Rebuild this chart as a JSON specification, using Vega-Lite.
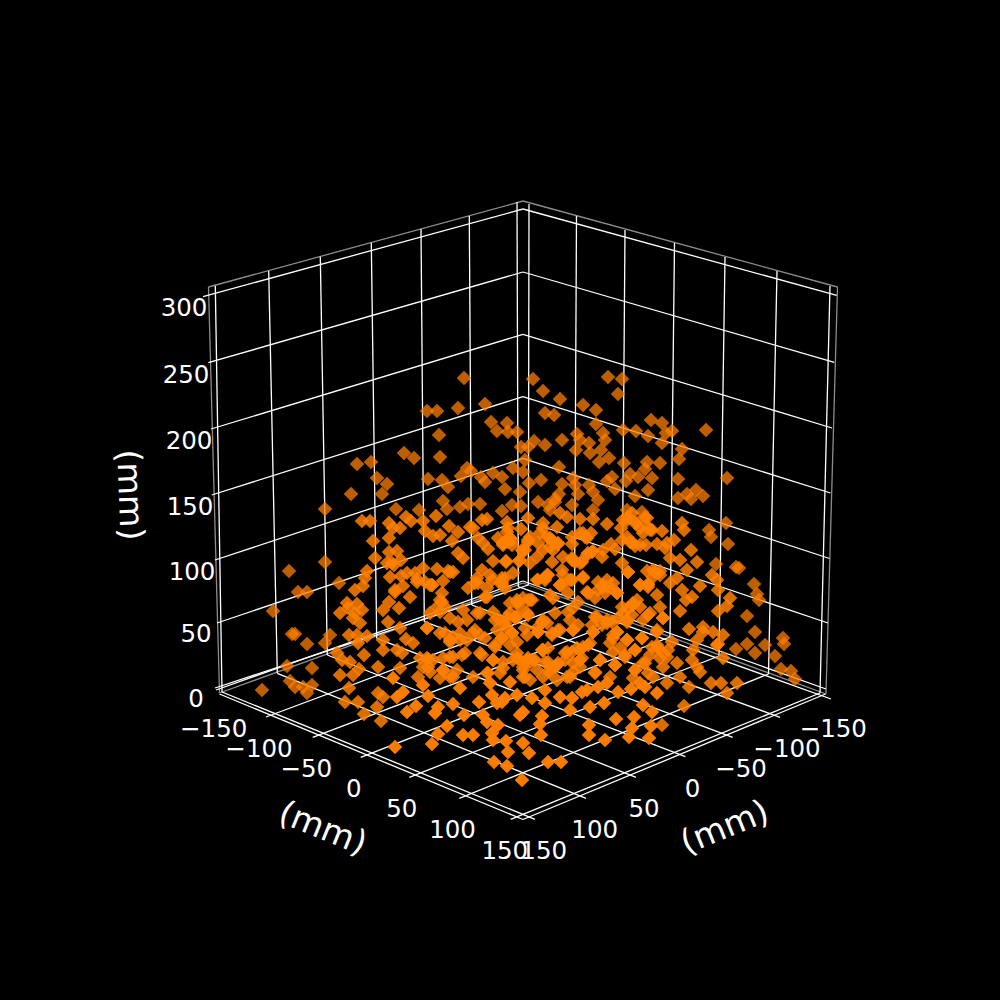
{
  "$schema": "https://vega.github.io/schema/vega-lite/v6.json",
  "description": "3D scatter of positions in mm, drawn from projected coordinates read off the picture.",
  "width": 1000,
  "height": 1000,
  "padding": 0,
  "autosize": {"type": "fit", "contains": "padding"},
  "background": "#000000",
  "config": {"view": {"stroke": null}},
  "datasets": {
    "grid": [
      {"u":215.3,"v":285.7,"u2":222,"v2":692},{"u":268.7,"v":271,"u2":277.3,"v2":673.3},{"u":320.3,"v":256.7,"u2":327.3,"v2":655},{"u":371.3,"v":242.7,"u2":376.7,"v2":638.3},{"u":421,"v":229,"u2":424.3,"v2":621.7},{"u":469.3,"v":216,"u2":471.7,"v2":605},{"u":517,"v":202,"u2":518.3,"v2":586.7},
      {"u":529,"v":204,"u2":528.3,"v2":585},{"u":576.5,"v":216,"u2":574.5,"v2":602},{"u":625,"v":230,"u2":622,"v2":620},{"u":674.5,"v":243,"u2":670,"v2":637},{"u":725,"v":257,"u2":719,"v2":656},{"u":777,"v":271,"u2":768.5,"v2":674},{"u":830,"v":286,"u2":820,"v2":693},
      {"u":203,"v":296.7,"u2":523,"v2":209},{"u":208.3,"v":362.7,"u2":523,"v2":272},{"u":211,"v":429,"u2":523,"v2":334.3},{"u":211.7,"v":495,"u2":523,"v2":396.7},{"u":215,"v":560,"u2":523,"v2":458.3},{"u":217,"v":623,"u2":523,"v2":520},{"u":216,"v":690,"u2":523,"v2":581},
      {"u":523,"v":209,"u2":836.7,"v2":295.3},{"u":523,"v":272,"u2":834.3,"v2":362.3},{"u":523,"v":334.3,"u2":832,"v2":428},{"u":523,"v":396.7,"u2":830.5,"v2":493},{"u":523,"v":458.3,"u2":829.5,"v2":558.5},{"u":523,"v":520,"u2":828,"v2":623},{"u":523,"v":581,"u2":826,"v2":689},
      {"u":215,"v":688,"u2":528.3,"v2":585},{"u":266,"v":717,"u2":574.5,"v2":602},{"u":312.7,"v":737.3,"u2":622,"v2":620},{"u":360.7,"v":757.3,"u2":670,"v2":637},{"u":409.3,"v":777.3,"u2":719,"v2":656},{"u":459.3,"v":798.3,"u2":768.5,"v2":674},{"u":510.7,"v":819.3,"u2":820,"v2":693},
      {"u":831,"v":699,"u2":518.3,"v2":586.7},{"u":780,"v":717.3,"u2":471.7,"v2":605},{"u":732.7,"v":737.3,"u2":424.3,"v2":621.7},{"u":685.3,"v":756.7,"u2":376.7,"v2":638.3},{"u":636,"v":777.3,"u2":327.3,"v2":655},{"u":586,"v":798.3,"u2":277.3,"v2":673.3},{"u":535,"v":819.3,"u2":222,"v2":692},
      {"u":219.5,"v":694,"u2":523,"v2":819.5},{"u":523,"v":819.5,"u2":825.5,"v2":694}
    ],
    "edges": [
      {"u":208.5,"v":287,"u2":523,"v2":201},{"u":523,"v":201,"u2":837.5,"v2":287},{"u":208.5,"v":287,"u2":219.5,"v2":693},{"u":837.5,"v":287,"u2":826,"v2":694},{"u":219.5,"v":693,"u2":523,"v2":583},{"u":523,"v":583,"u2":826,"v2":694}
    ],
    "ticks": [
      {"u":184,"v":306,"t":"300"},{"u":186,"v":373,"t":"250"},{"u":189,"v":439,"t":"200"},{"u":190,"v":505,"t":"150"},{"u":192,"v":570,"t":"100"},{"u":196,"v":632,"t":"50"},{"u":196,"v":697,"t":"0"},
      {"u":213.7,"v":727,"t":"−150"},{"u":259,"v":747,"t":"−100"},{"u":306.3,"v":767,"t":"−50"},{"u":353.7,"v":787,"t":"0"},{"u":401.8,"v":807,"t":"50"},{"u":452.5,"v":828,"t":"100"},{"u":504.8,"v":849,"t":"150"},
      {"u":833.3,"v":727.7,"t":"−150"},{"u":787,"v":747,"t":"−100"},{"u":741,"v":767,"t":"−50"},{"u":692.5,"v":787,"t":"0"},{"u":644,"v":807,"t":"50"},{"u":594.7,"v":828,"t":"100"},{"u":543.7,"v":849,"t":"150"}
    ],
    "points": [
      {"u":464,"v":378,"s":1},{"u":427,"v":411,"s":1},{"u":437,"v":411,"s":1},{"u":458,"v":408,"s":1},{"u":485,"v":404,"s":1},{"u":491,"v":422,"s":1},{"u":507,"v":423,"s":1},{"u":497,"v":431,"s":1},{"u":508,"v":432,"s":1},{"u":517,"v":432,"s":1},{"u":439,"v":435,"s":1},{"u":404,"v":453,"s":1},{"u":414,"v":458,"s":1},{"u":440,"v":457,"s":1},{"u":357,"v":464,"s":1},{"u":371,"v":462,"s":1},{"u":377,"v":478,"s":1},{"u":387,"v":484,"s":1},{"u":351,"v":494,"s":1},{"u":382,"v":494,"s":1},{"u":428,"v":479,"s":1},{"u":442,"v":480,"s":1},{"u":448,"v":487,"s":1},{"u":461,"v":476,"s":1},{"u":467,"v":468,"s":1},{"u":471,"v":471,"s":1},{"u":481,"v":477,"s":1},{"u":485,"v":482,"s":1},{"u":493,"v":473,"s":1},{"u":502,"v":477,"s":1},{"u":505,"v":489,"s":1},{"u":520,"v":492,"s":1},{"u":521,"v":447,"s":1},{"u":525,"v":460,"s":1},{"u":513,"v":468,"s":1},{"u":523,"v":472,"s":1},{"u":325,"v":509,"s":1},{"u":396,"v":509,"s":1},{"u":419,"v":510,"s":1},{"u":443,"v":501,"s":1},{"u":447,"v":509,"s":1},{"u":460,"v":507,"s":1},{"u":468,"v":504,"s":1},{"u":480,"v":504,"s":1},{"u":502,"v":511,"s":1},{"u":512,"v":505,"s":1},{"u":521,"v":506,"s":1},
      {"u":533,"v":379,"s":1},{"u":543,"v":391,"s":1},{"u":560,"v":399,"s":1},{"u":608,"v":377,"s":1},{"u":622,"v":379,"s":1},{"u":618,"v":394,"s":1},{"u":583,"v":405,"s":1},{"u":596,"v":410,"s":1},{"u":545,"v":413,"s":1},{"u":554,"v":415,"s":1},{"u":596,"v":424,"s":1},{"u":651,"v":420,"s":1},{"u":662,"v":423,"s":1},{"u":623,"v":430,"s":1},{"u":636,"v":431,"s":1},{"u":706,"v":430,"s":1},{"u":672,"v":431,"s":1},{"u":666,"v":433,"s":1},{"u":648,"v":436,"s":1},{"u":577,"v":434,"s":1},{"u":603,"v":433,"s":1},{"u":605,"v":440,"s":1},{"u":562,"v":440,"s":1},{"u":534,"v":441,"s":1},{"u":545,"v":445,"s":1},{"u":528,"v":447,"s":1},{"u":580,"v":440,"s":1},{"u":589,"v":443,"s":1},{"u":576,"v":450,"s":1},{"u":590,"v":453,"s":1},{"u":601,"v":450,"s":1},{"u":662,"v":443,"s":1},{"u":682,"v":449,"s":1},{"u":679,"v":459,"s":1},{"u":609,"v":458,"s":1},{"u":599,"v":462,"s":1},{"u":624,"v":463,"s":1},{"u":647,"v":462,"s":1},{"u":660,"v":463,"s":1},{"u":559,"v":467,"s":1},{"u":645,"v":469,"s":1},{"u":638,"v":477,"s":1},{"u":630,"v":474,"s":1},{"u":652,"v":478,"s":1},{"u":678,"v":479,"s":1},{"u":727,"v":478,"s":1},{"u":541,"v":480,"s":1},{"u":529,"v":483,"s":1},{"u":612,"v":477,"s":1},{"u":607,"v":481,"s":1},{"u":626,"v":481,"s":1},{"u":573,"v":478,"s":1},{"u":562,"v":484,"s":1},{"u":589,"v":485,"s":1},{"u":575,"v":485,"s":1},{"u":615,"v":489,"s":1},{"u":648,"v":490,"s":1},{"u":696,"v":490,"s":1},{"u":687,"v":494,"s":1},{"u":678,"v":498,"s":1},{"u":691,"v":499,"s":1},{"u":703,"v":496,"s":1},{"u":635,"v":496,"s":1},{"u":559,"v":494,"s":1},{"u":578,"v":494,"s":1},{"u":593,"v":492,"s":1},{"u":598,"v":500,"s":1},{"u":538,"v":502,"s":1},{"u":555,"v":499,"s":1},{"u":550,"v":510,"s":1},{"u":572,"v":505,"s":1},{"u":593,"v":510,"s":1},{"u":627,"v":510,"s":1},{"u":642,"v":512,"s":1},
      {"u":362,"v":521,"s":2},{"u":370,"v":521,"s":2},{"u":389,"v":523,"s":2},{"u":406,"v":517,"s":2},{"u":411,"v":521,"s":2},{"u":400,"v":528,"s":2},{"u":393,"v":528,"s":2},{"u":423,"v":521,"s":2},{"u":436,"v":516,"s":2},{"u":449,"v":526,"s":2},{"u":425,"v":531,"s":2},{"u":433,"v":536,"s":2},{"u":440,"v":535,"s":2},{"u":452,"v":541,"s":2},{"u":458,"v":532,"s":2},{"u":470,"v":527,"s":2},{"u":473,"v":528,"s":2},{"u":487,"v":519,"s":2},{"u":482,"v":520,"s":2},{"u":507,"v":522,"s":2},{"u":521,"v":529,"s":2},{"u":389,"v":538,"s":2},{"u":373,"v":541,"s":2},{"u":397,"v":551,"s":2},{"u":389,"v":552,"s":2},{"u":458,"v":553,"s":2},{"u":463,"v":558,"s":2},{"u":483,"v":543,"s":2},{"u":478,"v":538,"s":2},{"u":488,"v":549,"s":2},{"u":503,"v":543,"s":2},{"u":510,"v":538,"s":2},{"u":498,"v":538,"s":2},{"u":508,"v":528,"s":2},{"u":522,"v":550,"s":2},{"u":375,"v":558,"s":2},{"u":325,"v":562,"s":1},{"u":289,"v":571,"s":1},{"u":401,"v":560,"s":2},{"u":392,"v":563,"s":2},{"u":387,"v":563,"s":2},{"u":394,"v":565,"s":2},{"u":493,"v":561,"s":2},{"u":506,"v":561,"s":2},{"u":519,"v":561,"s":2},{"u":437,"v":569,"s":2},{"u":423,"v":568,"s":2},{"u":415,"v":573,"s":2},{"u":407,"v":573,"s":2},{"u":367,"v":571,"s":2},{"u":365,"v":578,"s":2},{"u":390,"v":577,"s":2},{"u":401,"v":576,"s":2},{"u":448,"v":571,"s":2},{"u":453,"v":572,"s":2},{"u":417,"v":579,"s":2},{"u":430,"v":585,"s":2},{"u":443,"v":581,"s":2},{"u":482,"v":570,"s":2},{"u":490,"v":575,"s":2},{"u":477,"v":578,"s":2},{"u":502,"v":578,"s":2},{"u":513,"v":573,"s":2},{"u":339,"v":583,"s":1},{"u":363,"v":586,"s":2},{"u":298,"v":592,"s":1},{"u":307,"v":592,"s":1},{"u":395,"v":590,"s":2},{"u":403,"v":586,"s":2},{"u":355,"v":590,"s":2},
      {"u":647,"v":518,"s":2},{"u":627,"v":520,"s":2},{"u":635,"v":523,"s":2},{"u":607,"v":524,"s":2},{"u":682,"v":523,"s":2},{"u":726,"v":523,"s":1},{"u":528,"v":518,"s":2},{"u":543,"v":523,"s":2},{"u":557,"v":527,"s":2},{"u":560,"v":513,"s":2},{"u":567,"v":517,"s":2},{"u":580,"v":519,"s":2},{"u":593,"v":519,"s":2},{"u":621,"v":528,"s":2},{"u":640,"v":528,"s":2},{"u":650,"v":530,"s":2},{"u":662,"v":531,"s":2},{"u":684,"v":530,"s":2},{"u":709,"v":530,"s":1},{"u":711,"v":537,"s":1},{"u":540,"v":533,"s":2},{"u":507,"v":532,"s":2},{"u":530,"v":537,"s":2},{"u":580,"v":533,"s":2},{"u":591,"v":533,"s":2},{"u":585,"v":537,"s":2},{"u":572,"v":537,"s":2},{"u":550,"v":538,"s":2},{"u":643,"v":533,"s":2},{"u":508,"v":542,"s":2},{"u":528,"v":542,"s":2},{"u":538,"v":543,"s":2},{"u":558,"v":544,"s":2},{"u":572,"v":544,"s":2},{"u":674,"v":540,"s":2},{"u":667,"v":543,"s":2},{"u":657,"v":544,"s":2},{"u":646,"v":545,"s":2},{"u":635,"v":546,"s":2},{"u":622,"v":540,"s":2},{"u":630,"v":542,"s":2},{"u":611,"v":544,"s":2},{"u":728,"v":544,"s":1},{"u":503,"v":543,"s":2},{"u":665,"v":548,"s":2},{"u":691,"v":550,"s":2},{"u":615,"v":549,"s":2},{"u":593,"v":551,"s":2},{"u":588,"v":553,"s":2},{"u":602,"v":557,"s":2},{"u":523,"v":551,"s":2},{"u":553,"v":550,"s":2},{"u":563,"v":557,"s":2},{"u":537,"v":557,"s":2},{"u":572,"v":560,"s":2},{"u":580,"v":563,"s":2},{"u":506,"v":562,"s":2},{"u":530,"v":563,"s":2},{"u":552,"v":562,"s":2},{"u":670,"v":558,"s":2},{"u":680,"v":560,"s":2},{"u":697,"v":562,"s":2},{"u":716,"v":564,"s":1},{"u":736,"v":567,"s":1},{"u":739,"v":568,"s":1},{"u":622,"v":563,"s":2},{"u":628,"v":572,"s":2},{"u":687,"v":570,"s":2},{"u":653,"v":570,"s":2},{"u":660,"v":571,"s":2},{"u":647,"v":571,"s":2},{"u":712,"v":575,"s":2},{"u":717,"v":580,"s":2},{"u":754,"v":584,"s":1},{"u":700,"v":586,"s":2},{"u":677,"v":578,"s":2},{"u":670,"v":583,"s":2},{"u":653,"v":577,"s":2},{"u":640,"v":585,"s":2},{"u":648,"v":584,"s":2},{"u":562,"v":570,"s":2},{"u":583,"v":578,"s":2},{"u":548,"v":575,"s":2},{"u":537,"v":580,"s":2},{"u":570,"v":580,"s":2},{"u":560,"v":585,"s":2},{"u":505,"v":578,"s":2},{"u":607,"v":580,"s":2},{"u":613,"v":583,"s":2},{"u":598,"v":582,"s":2},{"u":603,"v":587,"s":2},
      {"u":273,"v":611,"s":1},{"u":292,"v":634,"s":1},{"u":295,"v":634,"s":1},{"u":307,"v":644,"s":1},{"u":325,"v":643,"s":1},{"u":330,"v":635,"s":1},{"u":287,"v":666,"s":1},{"u":312,"v":668,"s":1},{"u":337,"v":653,"s":2},{"u":349,"v":635,"s":2},{"u":357,"v":635,"s":2},{"u":358,"v":643,"s":2},{"u":367,"v":636,"s":2},{"u":364,"v":655,"s":2},{"u":347,"v":603,"s":2},{"u":357,"v":604,"s":2},{"u":348,"v":608,"s":2},{"u":340,"v":613,"s":2},{"u":355,"v":613,"s":2},{"u":362,"v":610,"s":2},{"u":353,"v":618,"s":2},{"u":360,"v":623,"s":2},{"u":342,"v":660,"s":2},{"u":350,"v":662,"s":2},{"u":359,"v":669,"s":2},{"u":340,"v":675,"s":2},{"u":353,"v":675,"s":2},{"u":378,"v":667,"s":2},{"u":383,"v":650,"s":2},{"u":397,"v":650,"s":2},{"u":402,"v":653,"s":2},{"u":383,"v":640,"s":2},{"u":388,"v":622,"s":2},{"u":400,"v":628,"s":2},{"u":406,"v":639,"s":2},{"u":413,"v":643,"s":2},{"u":383,"v":610,"s":2},{"u":389,"v":602,"s":2},{"u":399,"v":608,"s":2},{"u":395,"v":592,"s":2},{"u":410,"v":597,"s":2},{"u":417,"v":582,"s":2},{"u":432,"v":585,"s":2},{"u":427,"v":628,"s":2},{"u":442,"v":602,"s":2},{"u":430,"v":613,"s":2},{"u":450,"v":618,"s":2},{"u":440,"v":633,"s":2},{"u":450,"v":640,"s":2},{"u":460,"v":633,"s":2},{"u":473,"v":633,"s":2},{"u":485,"v":638,"s":2},{"u":467,"v":620,"s":2},{"u":480,"v":613,"s":2},{"u":493,"v":612,"s":2},{"u":487,"v":597,"s":2},{"u":478,"v":583,"s":2},{"u":502,"v":583,"s":2},{"u":517,"v":600,"s":2},{"u":528,"v":600,"s":2},{"u":507,"v":617,"s":2},{"u":517,"v":617,"s":2},{"u":527,"v":613,"s":2},{"u":497,"v":630,"s":2},{"u":512,"v":633,"s":2},{"u":527,"v":635,"s":2},{"u":537,"v":628,"s":2},{"u":420,"v":658,"s":2},{"u":428,"v":659,"s":2},{"u":450,"v":657,"s":2},{"u":443,"v":658,"s":2},{"u":465,"v":653,"s":2},{"u":480,"v":653,"s":2},{"u":495,"v":647,"s":2},{"u":517,"v":653,"s":2},{"u":527,"v":660,"s":2},{"u":533,"v":660,"s":2},{"u":418,"v":677,"s":2},{"u":428,"v":667,"s":2},{"u":440,"v":678,"s":2},{"u":443,"v":670,"s":2},{"u":457,"v":670,"s":2},{"u":453,"v":677,"s":2},{"u":473,"v":677,"s":2},{"u":487,"v":673,"s":2},{"u":493,"v":660,"s":2},{"u":503,"v":668,"s":2},{"u":525,"v":677,"s":2},{"u":530,"v":680,"s":2},
      {"u":747,"v":616,"s":1},{"u":757,"v":594,"s":1},{"u":759,"v":600,"s":1},{"u":730,"v":598,"s":2},{"u":727,"v":606,"s":2},{"u":718,"v":611,"s":2},{"u":718,"v":590,"s":2},{"u":682,"v":590,"s":2},{"u":692,"v":597,"s":2},{"u":686,"v":600,"s":2},{"u":680,"v":611,"s":2},{"u":657,"v":595,"s":2},{"u":660,"v":607,"s":2},{"u":663,"v":618,"s":2},{"u":650,"v":613,"s":2},{"u":640,"v":607,"s":2},{"u":648,"v":587,"s":2},{"u":689,"v":629,"s":2},{"u":703,"v":627,"s":2},{"u":703,"v":632,"s":2},{"u":713,"v":632,"s":2},{"u":723,"v":635,"s":2},{"u":755,"v":632,"s":1},{"u":783,"v":638,"s":1},{"u":784,"v":644,"s":1},{"u":717,"v":645,"s":2},{"u":697,"v":640,"s":2},{"u":672,"v":642,"s":2},{"u":657,"v":632,"s":2},{"u":642,"v":638,"s":2},{"u":627,"v":640,"s":2},{"u":613,"v":638,"s":2},{"u":617,"v":593,"s":2},{"u":607,"v":587,"s":2},{"u":588,"v":593,"s":2},{"u":578,"v":602,"s":2},{"u":568,"v":612,"s":2},{"u":595,"v":617,"s":2},{"u":607,"v":623,"s":2},{"u":622,"v":607,"s":2},{"u":633,"v":605,"s":2},{"u":627,"v":620,"s":2},{"u":643,"v":620,"s":2},{"u":617,"v":632,"s":2},{"u":593,"v":632,"s":2},{"u":573,"v":630,"s":2},{"u":558,"v":630,"s":2},{"u":552,"v":633,"s":2},{"u":538,"v":632,"s":2},{"u":528,"v":615,"s":2},{"u":542,"v":622,"s":2},{"u":553,"v":598,"s":2},{"u":518,"v":602,"s":2},{"u":532,"v":600,"s":2},{"u":547,"v":575,"s":2},{"u":562,"v":585,"s":2},{"u":510,"v":613,"s":2},{"u":515,"v":617,"s":2},{"u":505,"v":623,"s":2},{"u":512,"v":633,"s":2},{"u":502,"v":638,"s":2},{"u":525,"v":628,"s":2},{"u":510,"v":645,"s":2},{"u":542,"v":650,"s":2},{"u":567,"v":652,"s":2},{"u":580,"v":650,"s":2},{"u":588,"v":645,"s":2},{"u":613,"v":652,"s":2},{"u":635,"v":650,"s":2},{"u":650,"v":655,"s":2},{"u":660,"v":650,"s":2},{"u":667,"v":657,"s":2},{"u":657,"v":645,"s":2},{"u":693,"v":650,"s":2},{"u":718,"v":644,"s":2},{"u":723,"v":658,"s":2},{"u":736,"v":649,"s":1},{"u":747,"v":644,"s":1},{"u":755,"v":653,"s":1},{"u":765,"v":645,"s":1},{"u":775,"v":656,"s":1},{"u":781,"v":669,"s":1},{"u":791,"v":671,"s":1},{"u":795,"v":679,"s":1},
      {"u":517,"v":658,"s":2},{"u":503,"v":662,"s":2},{"u":545,"v":662,"s":2},{"u":530,"v":662,"s":2},{"u":523,"v":667,"s":2},{"u":557,"v":665,"s":2},{"u":580,"v":660,"s":2},{"u":600,"v":660,"s":2},{"u":625,"v":657,"s":2},{"u":615,"v":665,"s":2},{"u":580,"v":667,"s":2},{"u":643,"v":663,"s":2},{"u":635,"v":670,"s":2},{"u":663,"v":667,"s":2},{"u":677,"v":663,"s":2},{"u":692,"v":660,"s":2},{"u":697,"v":667,"s":2},{"u":700,"v":672,"s":2},{"u":680,"v":677,"s":2},{"u":653,"v":677,"s":2},{"u":633,"v":678,"s":2},{"u":610,"v":677,"s":2},{"u":595,"v":673,"s":2},{"u":570,"v":677,"s":2},{"u":567,"v":677,"s":2},{"u":557,"v":680,"s":2},{"u":550,"v":673,"s":2},{"u":543,"v":677,"s":2},{"u":523,"v":677,"s":2},
      {"u":517,"v":602,"s":2},{"u":523,"v":598,"s":2},{"u":510,"v":603,"s":2},{"u":520,"v":607,"s":2},{"u":530,"v":600,"s":2},{"u":515,"v":618,"s":2},{"u":538,"v":580,"s":2},{"u":545,"v":578,"s":2},{"u":500,"v":583,"s":2},{"u":505,"v":588,"s":2},{"u":492,"v":580,"s":2},{"u":487,"v":588,"s":2},{"u":475,"v":583,"s":2},{"u":468,"v":588,"s":2},{"u":485,"v":597,"s":2},{"u":440,"v":600,"s":2},{"u":445,"v":607,"s":2},{"u":437,"v":607,"s":2},{"u":440,"v":612,"s":2},{"u":463,"v":610,"s":2},{"u":477,"v":613,"s":2},{"u":458,"v":622,"s":2},{"u":475,"v":630,"s":2},{"u":467,"v":640,"s":2},{"u":453,"v":637,"s":2},{"u":445,"v":633,"s":2},{"u":460,"v":640,"s":2},{"u":450,"v":642,"s":2},{"u":480,"v":635,"s":2},{"u":495,"v":620,"s":2},{"u":500,"v":620,"s":2},{"u":507,"v":628,"s":2},{"u":502,"v":638,"s":2},{"u":495,"v":645,"s":2},{"u":517,"v":642,"s":2},{"u":543,"v":620,"s":2},{"u":538,"v":632,"s":2},{"u":482,"v":655,"s":2},{"u":493,"v":660,"s":2},{"u":453,"v":657,"s":2},{"u":427,"v":658,"s":2},{"u":433,"v":660,"s":2},{"u":423,"v":667,"s":2},{"u":430,"v":672,"s":2},{"u":443,"v":670,"s":2},{"u":450,"v":677,"s":2},{"u":462,"v":655,"s":2},{"u":488,"v":673,"s":2},{"u":500,"v":673,"s":2},{"u":513,"v":660,"s":2},{"u":520,"v":660,"s":2},{"u":528,"v":658,"s":2},{"u":535,"v":660,"s":2},{"u":523,"v":670,"s":2},{"u":537,"v":670,"s":2},{"u":543,"v":650,"s":2},{"u":548,"v":648,"s":2},{"u":442,"v":593,"s":2},{"u":432,"v":585,"s":2},{"u":450,"v":572,"s":2},{"u":427,"v":628,"s":2},{"u":425,"v":582,"s":2},
      {"u":603,"v":585,"s":2},{"u":610,"v":587,"s":2},{"u":598,"v":590,"s":2},{"u":605,"v":593,"s":2},{"u":617,"v":593,"s":2},{"u":587,"v":592,"s":2},{"u":595,"v":598,"s":2},{"u":583,"v":577,"s":2},{"u":628,"v":572,"s":2},{"u":655,"v":572,"s":2},{"u":660,"v":575,"s":2},{"u":648,"v":585,"s":2},{"u":640,"v":585,"s":2},{"u":550,"v":595,"s":2},{"u":545,"v":580,"s":2},{"u":563,"v":575,"s":2},{"u":572,"v":580,"s":2},{"u":560,"v":585,"s":2},{"u":568,"v":593,"s":2},{"u":633,"v":603,"s":2},{"u":628,"v":608,"s":2},{"u":623,"v":613,"s":2},{"u":637,"v":600,"s":2},{"u":618,"v":618,"s":2},{"u":612,"v":622,"s":2},{"u":607,"v":620,"s":2},{"u":597,"v":617,"s":2},{"u":592,"v":625,"s":2},{"u":602,"v":625,"s":2},{"u":627,"v":622,"s":2},{"u":632,"v":615,"s":2},{"u":648,"v":615,"s":2},{"u":663,"v":618,"s":2},{"u":657,"v":630,"s":2},{"u":642,"v":638,"s":2},{"u":627,"v":640,"s":2},{"u":613,"v":635,"s":2},{"u":617,"v":632,"s":2},{"u":610,"v":643,"s":2},{"u":620,"v":648,"s":2},{"u":593,"v":632,"s":2},{"u":573,"v":630,"s":2},{"u":578,"v":625,"s":2},{"u":570,"v":620,"s":2},{"u":560,"v":630,"s":2},{"u":552,"v":635,"s":2},{"u":547,"v":623,"s":2},{"u":555,"v":613,"s":2},{"u":573,"v":608,"s":2},{"u":543,"v":622,"s":2},{"u":590,"v":643,"s":2},{"u":583,"v":647,"s":2},{"u":577,"v":648,"s":2},{"u":572,"v":652,"s":2},{"u":565,"v":653,"s":2},{"u":558,"v":663,"s":2},{"u":548,"v":662,"s":2},{"u":555,"v":667,"s":2},{"u":565,"v":660,"s":2},{"u":573,"v":663,"s":2},{"u":582,"v":658,"s":2},{"u":550,"v":670,"s":2},{"u":573,"v":672,"s":2},{"u":595,"v":672,"s":2},{"u":600,"v":660,"s":2},{"u":615,"v":665,"s":2},{"u":625,"v":655,"s":2},{"u":635,"v":650,"s":2},{"u":645,"v":663,"s":2},{"u":652,"v":647,"s":2},{"u":658,"v":648,"s":2},{"u":668,"v":650,"s":2},{"u":660,"v":658,"s":2},{"u":635,"v":670,"s":2},{"u":648,"v":673,"s":2},{"u":543,"v":650,"s":2},
      {"u":555,"v":502,"s":1},{"u":548,"v":505,"s":1},{"u":543,"v":528,"s":2},{"u":547,"v":537,"s":2},{"u":552,"v":540,"s":2},{"u":558,"v":543,"s":2},{"u":550,"v":547,"s":2},{"u":543,"v":550,"s":2},{"u":528,"v":540,"s":2},{"u":507,"v":540,"s":2},{"u":512,"v":540,"s":2},{"u":503,"v":545,"s":2},{"u":512,"v":545,"s":2},{"u":525,"v":550,"s":2},{"u":520,"v":560,"s":2},{"u":632,"v":513,"s":2},{"u":623,"v":520,"s":2},{"u":628,"v":517,"s":2},{"u":637,"v":523,"s":2},{"u":645,"v":517,"s":2},{"u":648,"v":527,"s":2},{"u":652,"v":530,"s":2},{"u":627,"v":537,"s":2},{"u":633,"v":543,"s":2},{"u":640,"v":545,"s":2},{"u":603,"v":550,"s":2},{"u":592,"v":552,"s":2},{"u":587,"v":555,"s":2},{"u":582,"v":562,"s":2},{"u":575,"v":562,"s":2},{"u":572,"v":558,"s":2},{"u":583,"v":533,"s":2},{"u":587,"v":538,"s":2},
      {"u":262,"v":690,"s":1},{"u":290,"v":681,"s":1},{"u":295,"v":687,"s":1},{"u":303,"v":687,"s":1},{"u":312,"v":685,"s":1},{"u":307,"v":693,"s":1},{"u":349,"v":688,"s":2},{"u":345,"v":702,"s":2},{"u":358,"v":702,"s":2},{"u":364,"v":714,"s":2},{"u":377,"v":707,"s":2},{"u":381,"v":721,"s":2},{"u":378,"v":693,"s":2},{"u":383,"v":697,"s":2},{"u":397,"v":697,"s":3},{"u":403,"v":692,"s":3},{"u":407,"v":712,"s":3},{"u":416,"v":706,"s":3},{"u":395,"v":747,"s":3},{"u":393,"v":678,"s":3},{"u":400,"v":668,"s":2},{"u":423,"v":685,"s":3},{"u":460,"v":688,"s":3},{"u":510,"v":682,"s":3},{"u":490,"v":683,"s":3},{"u":517,"v":695,"s":3},{"u":428,"v":696,"s":3},{"u":492,"v":695,"s":3},{"u":505,"v":698,"s":3},{"u":532,"v":698,"s":3},{"u":438,"v":707,"s":3},{"u":435,"v":713,"s":3},{"u":453,"v":704,"s":3},{"u":479,"v":702,"s":3},{"u":464,"v":715,"s":3},{"u":483,"v":715,"s":3},{"u":497,"v":703,"s":3},{"u":523,"v":712,"s":3},{"u":487,"v":722,"s":3},{"u":447,"v":726,"s":3},{"u":438,"v":734,"s":3},{"u":432,"v":744,"s":3},{"u":463,"v":735,"s":3},{"u":473,"v":735,"s":3},{"u":498,"v":725,"s":3},{"u":492,"v":733,"s":3},{"u":493,"v":740,"s":3},{"u":506,"v":741,"s":3},{"u":523,"v":743,"s":3},{"u":508,"v":752,"s":3},{"u":529,"v":753,"s":3},{"u":494,"v":762,"s":3},{"u":507,"v":766,"s":3},{"u":522,"v":780,"s":3},
      {"u":548,"v":762,"s":3},{"u":561,"v":762,"s":3},{"u":541,"v":735,"s":3},{"u":540,"v":724,"s":3},{"u":542,"v":716,"s":3},{"u":520,"v":715,"s":3},{"u":589,"v":725,"s":3},{"u":589,"v":735,"s":3},{"u":605,"v":740,"s":3},{"u":616,"v":719,"s":3},{"u":634,"v":717,"s":3},{"u":632,"v":728,"s":3},{"u":629,"v":737,"s":3},{"u":651,"v":726,"s":3},{"u":662,"v":725,"s":2},{"u":649,"v":738,"s":3},{"u":684,"v":706,"s":2},{"u":643,"v":705,"s":3},{"u":652,"v":712,"s":3},{"u":590,"v":707,"s":3},{"u":604,"v":703,"s":3},{"u":570,"v":710,"s":3},{"u":545,"v":703,"s":3},{"u":502,"v":702,"s":3},{"u":560,"v":697,"s":3},{"u":572,"v":698,"s":3},{"u":582,"v":692,"s":3},{"u":545,"v":690,"s":3},{"u":598,"v":687,"s":3},{"u":607,"v":683,"s":3},{"u":618,"v":692,"s":3},{"u":631,"v":689,"s":3},{"u":640,"v":683,"s":3},{"u":645,"v":687,"s":3},{"u":657,"v":693,"s":3},{"u":667,"v":683,"s":2},{"u":689,"v":687,"s":2},{"u":711,"v":683,"s":2},{"u":721,"v":683,"s":2},{"u":727,"v":693,"s":2},{"u":737,"v":683,"s":2},{"u":587,"v":690,"s":3}
    ]
  },
  "layer": [
    {
      "data": {"name": "edges"},
      "mark": {"type": "rule", "stroke": "#8c8c8c", "strokeWidth": 1.3},
      "encoding": {
        "x": {"field": "u", "type": "quantitative", "scale": {"domain": [0, 1000], "nice": false, "zero": false}, "axis": null},
        "y": {"field": "v", "type": "quantitative", "scale": {"domain": [1000, 0], "nice": false, "zero": false}, "axis": null},
        "x2": {"field": "u2"},
        "y2": {"field": "v2"}
      }
    },
    {
      "data": {"name": "grid"},
      "mark": {"type": "rule", "stroke": "#ffffff", "strokeWidth": 1.3},
      "encoding": {
        "x": {"field": "u", "type": "quantitative", "axis": null},
        "y": {"field": "v", "type": "quantitative", "axis": null},
        "x2": {"field": "u2"},
        "y2": {"field": "v2"}
      }
    },
    {
      "data": {"name": "points"},
      "mark": {"type": "point", "shape": "diamond", "filled": true, "size": 215, "color": "#ff7f00", "strokeWidth": 0},
      "encoding": {
        "x": {"field": "u", "type": "quantitative", "axis": null},
        "y": {"field": "v", "type": "quantitative", "axis": null},
        "opacity": {"field": "s", "type": "quantitative", "scale": {"domain": [1, 3], "range": [0.74, 0.97]}, "legend": null},
        "order": {"field": "s", "type": "quantitative"}
      }
    },
    {
      "data": {"name": "ticks"},
      "mark": {"type": "text", "font": "DejaVu Sans", "fontSize": 24.5, "color": "#ffffff", "align": "center", "baseline": "middle", "dy": 2.5},
      "encoding": {
        "x": {"field": "u", "type": "quantitative", "axis": null},
        "y": {"field": "v", "type": "quantitative", "axis": null},
        "text": {"field": "t"}
      }
    },
    {
      "data": {"values": [{"u": 322.5, "v": 829, "t": "(mm)"}]},
      "mark": {"type": "text", "font": "DejaVu Sans", "fontSize": 33.5, "color": "#ffffff", "align": "center", "baseline": "middle", "angle": 22},
      "encoding": {
        "x": {"field": "u", "type": "quantitative", "axis": null},
        "y": {"field": "v", "type": "quantitative", "axis": null},
        "text": {"field": "t"}
      }
    },
    {
      "data": {"values": [{"u": 725, "v": 828, "t": "(mm)"}]},
      "mark": {"type": "text", "font": "DejaVu Sans", "fontSize": 33.5, "color": "#ffffff", "align": "center", "baseline": "middle", "angle": 338},
      "encoding": {
        "x": {"field": "u", "type": "quantitative", "axis": null},
        "y": {"field": "v", "type": "quantitative", "axis": null},
        "text": {"field": "t"}
      }
    },
    {
      "data": {"values": [{"u": 129, "v": 495, "t": "(mm)"}]},
      "mark": {"type": "text", "font": "DejaVu Sans", "fontSize": 33.5, "color": "#ffffff", "align": "center", "baseline": "middle", "angle": 88},
      "encoding": {
        "x": {"field": "u", "type": "quantitative", "axis": null},
        "y": {"field": "v", "type": "quantitative", "axis": null},
        "text": {"field": "t"}
      }
    }
  ]
}
